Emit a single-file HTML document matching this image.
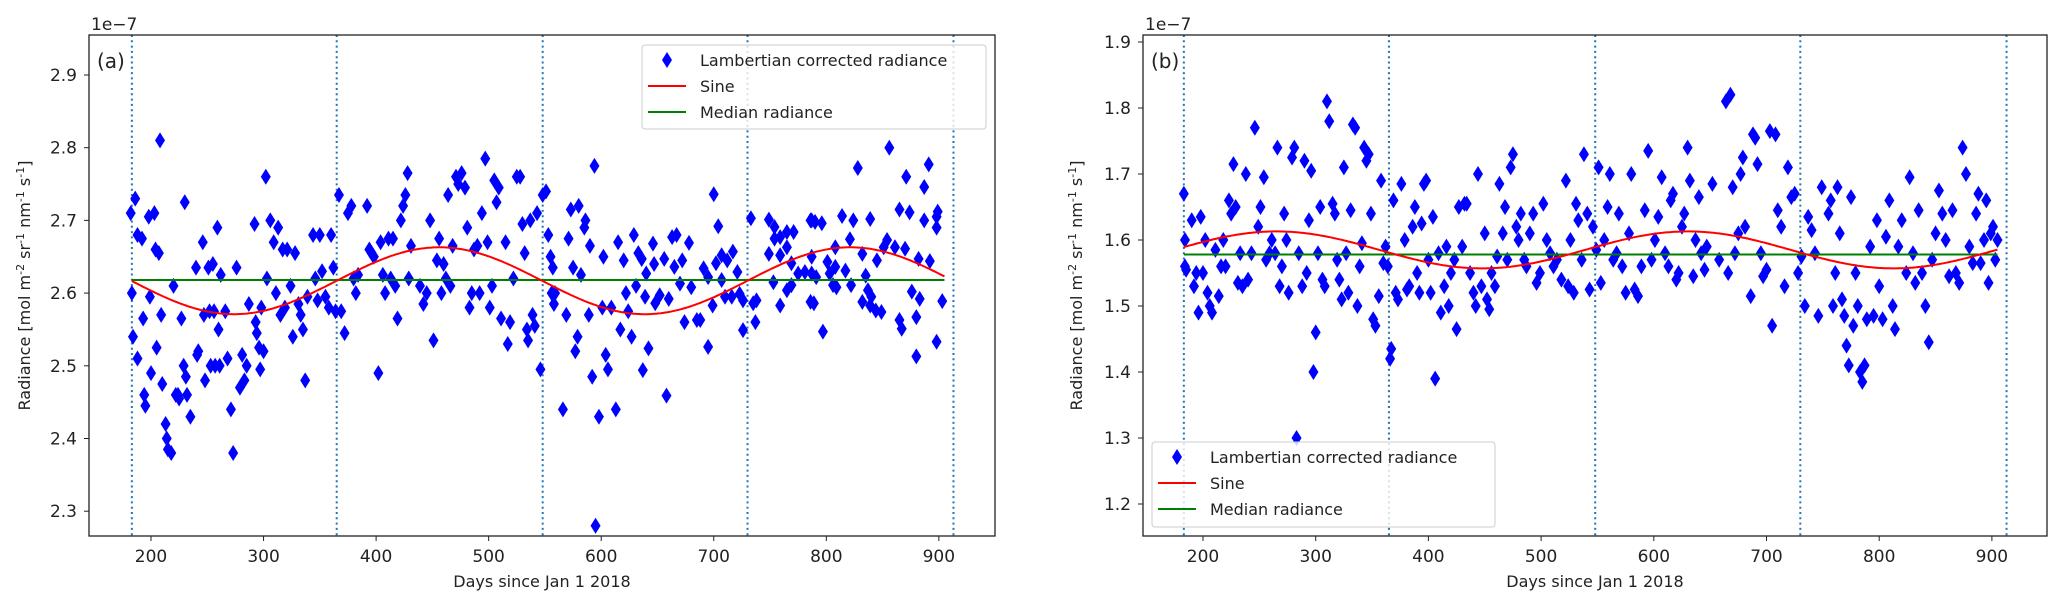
<!DOCTYPE html>
<html><head><meta charset="utf-8"><style>
html,body{margin:0;padding:0;background:#fff;}
svg{display:block;font-family:"DejaVu Sans","Liberation Sans",sans-serif;}
</style></head><body>
<svg id="chart" width="2067" height="609" viewBox="0 0 2067 609" xmlns="http://www.w3.org/2000/svg"></svg>
<script>
// ---------- Panel (a) data ----------
const daysA = [182,183,184,186,188,188,192,193,194,195,198,199,200,203,204,205,208,207,209,210,213,214,215,218,220,
222,224,225,227,229,230,231,232,235,240,241,242,246,247,248,251,252,253,255,256,257,259,260,261,262,
266,268,271,273,276,279,281,283,285,287,292,293,294,296,297,298,300,302,303,306,309,311,313,315,317,319,321,
324,326,328,331,333,335,337,339,344,346,348,350,352,355,358,360,362,364,367,369,372,375,378,380,382,384,
392,394,396,398,402,404,406,408,411,413,415,417,419,422,424,426,428,429,431,439,442,445,448,451,454,456,458,460,462,
464,466,468,471,473,476,479,481,483,485,487,490,492,494,497,499,501,503,505,507,509,511,
515,517,519,522,525,528,530,532,534,535,537,539,541,543,546,548,551,553,555,556,557,558,559,
566,569,571,573,575,577,579,580,582,585,586,589,590,592,594,595,598,
601,602,604,606,609,613,615,617,620,622,624,627,629,631,633,
636,637,640,642,636,639,647,646,648,652,656,658,660,663,665,667,670,672,674,678,680,685,688,
691,695,695,699,700,702,704,707,707,710,712,716,717,721,723,726,726,733,735,737,738,
749,749,753,754,754,759,759,759,765,765,765,769,769,771,775,781,786,786,787,789,
787,787,790,791,796,797,801,803,806,808,808,809,814,817,821,822,824,828,832,832,835,837,839,839,840,844,845,849,851,854,856,
861,865,865,867,870,871,874,876,880,880,882,883,887,887,891,892,898,898,899,898,903,903,904];
const radA = [2.71,2.60,2.54,2.73,2.68,2.51,2.675,2.565,2.46,2.445,2.705,2.595,2.49,2.71,2.66,2.525,2.81,2.655,2.57,2.475,2.42,2.40,2.385,2.38,2.61,
2.46,2.46,2.455,2.565,2.50,2.725,2.485,2.46,2.43,2.635,2.515,2.52,2.67,2.57,2.48,2.635,2.575,2.50,2.64,2.575,2.50,2.69,2.55,2.50,2.625,
2.575,2.51,2.44,2.38,2.635,2.47,2.515,2.48,2.50,2.585,2.695,2.56,2.545,2.525,2.495,2.58,2.52,2.76,2.62,2.70,2.67,2.60,2.69,2.57,2.66,2.58,2.66,
2.61,2.54,2.655,2.585,2.57,2.55,2.48,2.595,2.68,2.62,2.59,2.68,2.63,2.595,2.58,2.68,2.635,2.575,2.735,2.575,2.545,2.71,2.72,2.62,2.60,2.625,
2.72,2.66,2.655,2.65,2.49,2.67,2.625,2.60,2.675,2.62,2.675,2.61,2.565,2.70,2.72,2.735,2.765,2.62,2.665,2.61,2.585,2.60,2.70,2.535,2.645,2.675,2.60,2.64,2.62,
2.735,2.61,2.665,2.76,2.75,2.765,2.745,2.69,2.58,2.60,2.66,2.665,2.60,2.71,2.785,2.67,2.58,2.61,2.755,2.725,2.745,2.565,
2.67,2.53,2.56,2.62,2.76,2.76,2.695,2.655,2.55,2.535,2.70,2.57,2.555,2.71,2.495,2.735,2.74,2.68,2.65,2.60,2.635,2.585,2.60,
2.44,2.57,2.675,2.715,2.635,2.52,2.54,2.72,2.625,2.69,2.70,2.57,2.665,2.485,2.775,2.28,2.43,
2.58,2.65,2.515,2.495,2.58,2.44,2.67,2.55,2.645,2.60,2.575,2.54,2.68,2.61,2.655,
2.647,2.494,2.627,2.524,2.647,2.595,2.64,2.668,2.586,2.597,2.647,2.459,2.592,2.677,2.636,2.68,2.613,2.645,2.56,2.669,2.608,2.563,2.563,
2.634,2.526,2.622,2.583,2.736,2.641,2.692,2.652,2.618,2.595,2.645,2.595,2.657,2.629,2.599,2.549,2.59,2.703,2.586,2.56,
2.59,2.701,2.654,2.615,2.691,2.675,2.652,2.583,2.677,2.604,2.684,2.663,2.611,2.641,2.684,2.627,2.629,2.588,2.70,
2.627,2.586,2.70,2.65,2.698,2.622,2.696,2.547,2.643,2.627,2.611,2.636,2.663,2.608,2.706,2.631,2.674,2.611,2.70,2.772,2.588,2.654,2.624,2.604,2.583,2.702,2.595,2.576,2.645,2.574,2.663,
2.673,2.80,2.663,2.563,2.715,2.551,2.661,2.76,2.711,2.602,2.567,2.513,2.647,2.592,2.746,2.70,2.777,2.644,2.705,2.533,2.712,2.69,2.589];
const sineA = {mean:2.617, amp:0.046, zeroDay:365, period:365, start:183, end:905};
const medianA = 2.618;
const yTicksA = [2.3,2.4,2.5,2.6,2.7,2.8,2.9];

// ---------- Panel (b) data ----------
const daysB = [183,184,184,185,
190,192,194,196,198,200,202,204,206,208,211,
214,216,218,220,223,225,227,229,231,233,235,
238,240,243,246,249,251,254,256,259,261,264,
266,268,270,272,274,276,279,281,283,285,288,290,292,
294,296,298,300,302,304,306,308,310,312,315,317,319,321,
323,325,327,329,331,333,335,337,339,341,343,345,347,349,351,353,356,
358,360,362,364,366,367,369,371,373,376,379,381,383,386,
388,390,392,394,396,398,400,402,404,406,409,411,414,
416,418,420,423,425,427,430,432,434,437,440,442,444,447,450,
452,454,456,459,461,463,466,468,470,473,475,478,480,482,485,
487,490,493,496,499,502,505,508,511,514,518,
522,524,526,529,531,533,536,538,541,543,546,549,
551,553,556,559,561,564,567,569,572,575,578,
580,583,586,589,592,595,598,601,604,607,610,613,
615,617,620,622,625,627,630,632,635,637,640,642,645,647,
652,664,668,658,666,672,675,677,679,670,681,686,
688,690,692,695,697,700,703,705,708,710,713,716,
719,722,725,728,731,734,737,740,743,746,749,
755,757,759,761,763,765,767,769,771,773,775,777,779,781,783,785,787,
789,792,795,798,800,803,806,809,812,814,817,820,
824,827,830,832,835,838,841,844,847,850,853,856,
859,862,865,868,871,874,877,880,883,886,
888,890,893,895,897,899,901,903,905];
const radB = [1.67,1.60,1.56,1.555,
1.63,1.53,1.55,1.49,1.635,1.55,1.60,1.52,1.50,1.49,1.585,
1.515,1.56,1.60,1.56,1.66,1.64,1.715,1.65,1.535,1.58,1.53,
1.70,1.54,1.58,1.77,1.62,1.65,1.695,1.57,1.58,1.60,1.58,
1.74,1.53,1.56,1.64,1.60,1.52,1.725,1.74,1.30,1.58,1.53,1.72,1.55,
1.63,1.705,1.40,1.46,1.58,1.65,1.54,1.53,1.81,1.78,1.655,1.64,1.57,1.54,
1.51,1.71,1.58,1.52,1.645,1.775,1.77,1.50,1.56,1.595,1.74,1.72,1.73,1.64,1.48,1.47,1.515,
1.69,1.565,1.59,1.56,1.42,1.435,1.66,1.52,1.51,1.685,1.60,1.525,1.53,1.62,
1.65,1.55,1.52,1.625,1.685,1.69,1.57,1.52,1.635,1.39,1.58,1.49,1.53,
1.59,1.50,1.55,1.57,1.465,1.65,1.59,1.655,1.655,1.55,1.52,1.50,1.70,1.53,1.61,
1.51,1.495,1.55,1.53,1.575,1.685,1.61,1.65,1.57,1.71,1.73,1.62,1.60,1.64,1.57,
1.56,1.61,1.64,1.535,1.55,1.655,1.60,1.58,1.56,1.57,1.54,
1.69,1.53,1.60,1.52,1.655,1.63,1.57,1.73,1.64,1.525,1.62,1.585,
1.71,1.535,1.60,1.65,1.70,1.57,1.58,1.64,1.56,1.52,1.61,
1.70,1.525,1.515,1.56,1.645,1.735,1.57,1.60,1.635,1.695,1.58,1.56,
1.66,1.67,1.54,1.55,1.62,1.64,1.74,1.69,1.545,1.60,1.665,1.58,1.555,1.59,
1.685,1.81,1.82,1.57,1.55,1.58,1.61,1.70,1.725,1.68,1.62,1.515,
1.76,1.755,1.715,1.58,1.545,1.555,1.765,1.47,1.76,1.645,1.62,1.53,
1.71,1.665,1.67,1.55,1.575,1.50,1.635,1.615,1.58,1.485,1.68,
1.64,1.66,1.50,1.55,1.68,1.61,1.51,1.485,1.44,1.41,1.665,1.47,1.55,1.50,1.40,1.385,1.41,
1.48,1.59,1.485,1.63,1.53,1.48,1.605,1.66,1.50,1.465,1.59,1.63,
1.55,1.695,1.58,1.535,1.645,1.55,1.50,1.445,1.57,1.61,1.675,1.64,
1.60,1.545,1.645,1.55,1.535,1.74,1.70,1.59,1.565,1.64,
1.67,1.565,1.60,1.66,1.535,1.61,1.62,1.57,1.60];
const sineB = {mean:1.585, amp:0.028, zeroDay:174, period:365, start:183, end:905};
const medianB = 1.578;
const yTicksB = [1.2,1.3,1.4,1.5,1.6,1.7,1.8,1.9];

const xTicks = [200,300,400,500,600,700,800,900];
const yearLines = [183,365,548,730,913];

const NS = "http://www.w3.org/2000/svg";
const svg = document.getElementById('chart');
function mk(tag, attrs, parent){
  const e = document.createElementNS(NS, tag);
  for (const k in attrs) e.setAttribute(k, attrs[k]);
  (parent||svg).appendChild(e);
  return e;
}

function panel(cfg){
  const g = mk('g', {});
  
  
  const L=cfg.left, R=cfg.right, T=35, B=536;
  const xs = d => cfg.x200 + (d-200)*cfg.pxPerDay;
  const ys = v => cfg.yRefPx + (cfg.yRef - v)*cfg.pxPerUnit;
  const cid = 'clip-'+cfg.name;
  const cp = mk('clipPath', {id:cid}, g);
  mk('rect', {x:L, y:T, width:R-L, height:B-T}, cp);
  const plot = mk('g', {'clip-path':'url(#'+cid+')'}, g);
  
  
  yearLines.forEach(d => {
    const l = mk('line', {x1:xs(d), x2:xs(d), y1:T, y2:B, stroke:'#1f77b4', 'stroke-width':2, 'stroke-dasharray':'2,3.3'}, plot);
    
    
  });
  const pg = mk('g', {fill:'#0000ff'}, plot);
  
  
  cfg.days.forEach((d,i) => {
    const x = xs(d), y = ys(cfg.vals[i]);
    const p = mk('path', {d:`M${x} ${y-8}L${x+5} ${y}L${x} ${y+8}L${x-5} ${y}Z`}, pg);
    
    
  });
  const med = mk('line', {x1:xs(cfg.sine.start), x2:xs(cfg.sine.end), y1:ys(cfg.median), y2:ys(cfg.median), stroke:'#008000', 'stroke-width':2}, plot);
  
  
  let pts = [];
  const s = cfg.sine;
  for (let d = s.start; d <= s.end; d += 2) {
    const v = s.mean + s.amp*Math.sin(2*Math.PI*(d - s.zeroDay)/s.period);
    pts.push(xs(d).toFixed(1)+','+ys(v).toFixed(1));
  }
  const sl = mk('polyline', {points:pts.join(' '), fill:'none', stroke:'#ff0000', 'stroke-width':2}, plot);
  
  
  const fr = mk('rect', {x:L, y:T, width:R-L, height:B-T, fill:'none', stroke:'#222', 'stroke-width':1.3}, g);
  
  
  xTicks.forEach(t => {
    const x = xs(t);
    mk('line', {x1:x, x2:x, y1:B, y2:B+5, stroke:'#222', 'stroke-width':1}, g);
    const tx = mk('text', {x:x, y:562, 'text-anchor':'middle', 'font-size':17, fill:'#222'}, g);
    tx.textContent = t;
    
    
  });
  cfg.yTicks.forEach(t => {
    const y = ys(t);
    mk('line', {x1:L-5, x2:L, y1:y, y2:y, stroke:'#222', 'stroke-width':1}, g);
    const tx = mk('text', {x:L-12, y:y+6, 'text-anchor':'end', 'font-size':17, fill:'#222'}, g);
    tx.textContent = t.toFixed(1);
    
    
  });
  const off = mk('text', {x:L+2, y:30, 'font-size':17, fill:'#222'}, g);
  off.textContent = '1e\u22127';
  
  
  const pl = mk('text', {x:L+8, y:68, 'font-size':20, fill:'#222'}, g);
  pl.textContent = cfg.letter;
  
  
  const xt = mk('text', {x:(L+R)/2, y:587, 'text-anchor':'middle', 'font-size':16, fill:'#222'}, g);
  xt.textContent = 'Days since Jan 1 2018';
  
  
  const yt = mk('text', {x:0, y:0, 'text-anchor':'middle', 'font-size':16, fill:'#222', transform:`translate(${cfg.yTitleX},${(T+B)/2}) rotate(-90)`}, g);
  yt.innerHTML = 'Radiance [mol m<tspan dy="-6" font-size="11">-2</tspan><tspan dy="6"> sr</tspan><tspan dy="-6" font-size="11">-1</tspan><tspan dy="6"> nm</tspan><tspan dy="-6" font-size="11">-1</tspan><tspan dy="6"> s</tspan><tspan dy="-6" font-size="11">-1</tspan><tspan dy="6">]</tspan>';
  
  
  const lg = cfg.legend;
  const leg = mk('g', {}, g);
  
  
  mk('rect', {x:lg.x, y:lg.y, width:lg.w, height:lg.h, rx:3, fill:'#fff', 'fill-opacity':0.8, stroke:'#ccc', 'stroke-width':1}, leg);
  const mx = lg.x+25, ly = [lg.y+15, lg.y+41, lg.y+67];
  const lm = mk('path', {d:`M${mx} ${ly[0]-8}L${mx+5} ${ly[0]}L${mx} ${ly[0]+8}L${mx-5} ${ly[0]}Z`, fill:'#0000ff'}, leg);
  
  
  const l1 = mk('line', {x1:lg.x+6, x2:lg.x+44, y1:ly[1], y2:ly[1], stroke:'#ff0000', 'stroke-width':2}, leg);
  
  
  const l2 = mk('line', {x1:lg.x+6, x2:lg.x+44, y1:ly[2], y2:ly[2], stroke:'#008000', 'stroke-width':2}, leg);
  
  
  ['Lambertian corrected radiance','Sine','Median radiance'].forEach((s,i) => {
    const t = mk('text', {x:lg.x+58, y:ly[i]+6, 'font-size':16, fill:'#222'}, leg);
    t.textContent = s;
    
    
  });
}

panel({name:'panel-a', letter:'(a)', left:89, right:995, x200:151, pxPerDay:1.1255,
  yRef:2.9, yRefPx:75, pxPerUnit:727, yTicks:yTicksA, days:daysA, vals:radA,
  sine:sineA, median:medianA, yTitleX:30, legend:{x:642, y:45, w:344, h:84}});
panel({name:'panel-b', letter:'(b)', left:1143, right:2047, x200:1203, pxPerDay:1.127,
  yRef:1.9, yRefPx:42, pxPerUnit:660, yTicks:yTicksB, days:daysB, vals:radB,
  sine:sineB, median:medianB, yTitleX:1082, legend:{x:1152, y:442, w:343, h:85}});
</script>
</body></html>
